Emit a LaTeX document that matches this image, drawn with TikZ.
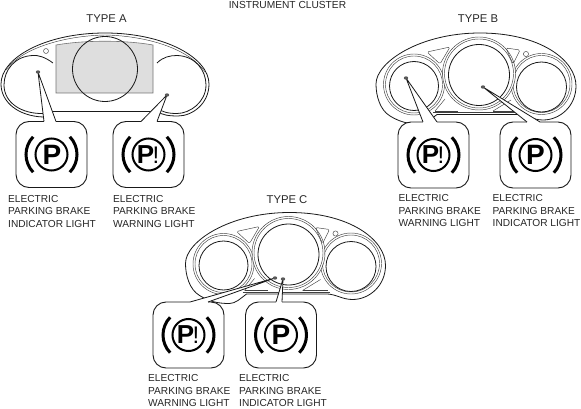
\documentclass[tikz,border=0pt]{standalone}
\usepackage{fontspec}
\setmainfont{Liberation Sans}
\tikzset{
 lbl/.style={anchor=north west,inner sep=0pt,align=left,font=\fontsize{10.15}{12.4}\selectfont,text=black!85},
 ttl/.style={inner sep=0pt,font=\fontsize{11.3}{13}\selectfont,text=black!85},
 ln/.style={line width=0.8pt,black!90},
 thin2/.style={line width=0.45pt,black!75},
 lightbox/.style={draw=black!90,line width=0.9pt,fill=white,rounded corners=13pt,minimum width=71pt,minimum height=66pt,inner sep=0pt},
}
\newcommand\callout[7]{%
 % #1 name, #2 cx, #3 cy, #4 tip x, #5 tip y, #6 base left x, #7 base right x
 \node[lightbox] (#1) at (#2,#3) {};
 \coordinate (#1t) at (#4,#5);
 \coordinate (#1a) at (#6,#3-33);
 \coordinate (#1b) at (#7,#3-33);
 \draw[white,line width=1.4pt] (#1a) -- (#1b);
 \fill[white] (#1a) -- (#1t) -- (#1b) -- cycle;
 \draw[ln,line join=round] (#1a) -- (#1t) -- (#1b);
 \fill[black!65] (#4,#5) ellipse (2.2pt and 1.7pt);
 \draw[line width=2pt,black] (#2,#3) circle (16pt);
 \draw[line width=3pt,black] ([shift={(-44:25.5pt)}]#2,#3) arc[start angle=-44,end angle=44,radius=25.5pt];
 \draw[line width=3pt,black] ([shift={(136:25.5pt)}]#2,#3) arc[start angle=136,end angle=224,radius=25.5pt];
}
\newcommand\plainP[3]{\node[inner sep=0pt,font=\fontsize{28}{28}\bfseries\selectfont] (#1) at (#2,#3) {P};}
\newcommand\warnP[3]{\node[inner sep=0pt,font=\fontsize{26}{26}\bfseries\selectfont] (#1) at (#2-3,#3) {P};
 \node[inner sep=0pt,font=\fontsize{24}{24}\selectfont] (#1x) at (#2+7.5,#3) {!};}
\newcommand\clusterBC{%
 \draw[ln] (420,124) .. controls (408,124) and (400,122) .. (390,116)
   .. controls (380,110) and (376,96) .. (376,84)
   .. controls (376,62) and (420,33) .. (480,33)
   .. controls (540,33) and (576,60) .. (576,86)
   .. controls (576,106) and (560,120) .. (543,120)
   .. controls (533,120) and (527,115) .. (518,114.5)
   -- (437,114.5) .. controls (431,119) and (426,124) .. (420,124);
 \draw[thin2] (433,112.5) -- (520,112.5);
 \foreach \r in {30.5,28.5} \draw[thin2] (414,84.5) circle (\r pt);
 \draw[ln] (414,86) circle (24.5pt);
 \draw[thin2] (541.5,84) circle (30.5pt);
 \draw[thin2] (541.5,84) circle (28.5pt);
 \draw[ln] (541.5,87) circle (25pt);
 \fill[white] (479,73.5) circle (36pt);
 \draw[thin2] (479,73.5) circle (36.5pt);
 \draw[thin2] (479,73.5) circle (34.5pt);
 \draw[ln] (479,75) circle (30.5pt);
 \draw[thin2,rounded corners=1.5pt] (427,52) -- (450,47) -- (440,64) -- cycle;
 \draw[thin2,rounded corners=1.5pt] (506,48) -- (520,50) -- (513,64) -- cycle;
 \draw[thin2] (526,54) circle (2.6pt);
 \draw[thin2] (435,111) -- (445,99);
 \draw[thin2] (435,111) -- (458,111);
 \draw[thin2] (493,111) -- (511,100);
 \draw[thin2] (493,111) -- (518,111);
}
\begin{document}
\begin{tikzpicture}[x=1pt,y=-1pt]
\useasboundingbox (0,0) rectangle (581,409);
\node[ttl,font=\fontsize{10.2}{12}\selectfont] (main) at (287.5,5) {INSTRUMENT CLUSTER};
\node[ttl] (ta) at (106.5,18.5) {TYPE A};
\node[ttl] (tb) at (478,18.5) {TYPE B};
\node[ttl] (tc) at (287,199.5) {TYPE C};
% Type A
\draw[fill=black!13,draw=black!55,line width=0.6pt] (56,45) .. controls (85,40) and (125,40) .. (153,45) -- (153,93) -- (56,93) -- cycle;
\draw[ln,line width=0.8pt] (105,69) circle (32.5pt);
\draw[ln] (43,117) .. controls (18,116) and (1,102) .. (1,84)
  .. controls (1,58) and (45,33) .. (105,33)
  .. controls (165,33) and (209,58) .. (209,84)
  .. controls (209,104) and (192,116) .. (178,116)
  .. controls (168,116) and (163,115) .. (157,111.5) -- (53,111.5) -- (45,117);
\draw[thin2] (6,70) .. controls (20,50) and (60,36) .. (105,35) .. controls (150,36) and (190,50) .. (205,72);
\draw[ln] (53,63) .. controls (45,57) and (38,55) .. (33,55.5)
  .. controls (15,56) and (4,70) .. (4,85)
  .. controls (4,103) and (22,114) .. (43,113.5);
\draw[ln] (157,63) .. controls (163,57) and (170,55.5) .. (177,55.5)
  .. controls (195,56) and (206,70) .. (206,85)
  .. controls (206,102) and (190,113.5) .. (177,113.5)
  .. controls (168,113.5) and (162,112) .. (157,108);
\draw[thin2] (46,51) circle (2.5pt);
\callout{a1}{51.5}{154.5}{38}{72}{44}{56}
\plainP{pa1}{52}{155}
\callout{a2}{148.5}{154.5}{167}{95}{141}{157}
\warnP{pa2}{148.5}{155}
\node[lbl] (la1) at (8,195) {ELECTRIC\\PARKING BRAKE\\INDICATOR LIGHT};
\node[lbl] (la2) at (113,195) {ELECTRIC\\PARKING BRAKE\\WARNING LIGHT};
% Type B
\clusterBC
\callout{b1}{433.5}{155}{406}{78}{423}{437}
\warnP{pb1}{433.5}{155}
\callout{b2}{535.5}{155}{483}{87}{527}{540}
\plainP{pb2}{535.5}{155}
\node[lbl] (lb1) at (398.5,194.5) {ELECTRIC\\PARKING BRAKE\\WARNING LIGHT};
\node[lbl] (lb2) at (492.5,194.5) {ELECTRIC\\PARKING BRAKE\\INDICATOR LIGHT};
% Type C
\begin{scope}[shift={(-190.5,179.5)}]
 \clusterBC
\end{scope}
\callout{c1}{188.5}{335}{275}{278}{190}{208}
\warnP{pc1}{188.5}{335}
\callout{c2}{281}{335}{283}{279}{276}{282}
\plainP{pc2}{281}{335}
\node[lbl] (lc1) at (148,374.5) {ELECTRIC\\PARKING BRAKE\\WARNING LIGHT};
\node[lbl] (lc2) at (239,374.5) {ELECTRIC\\PARKING BRAKE\\INDICATOR LIGHT};
\end{tikzpicture}
\end{document}
